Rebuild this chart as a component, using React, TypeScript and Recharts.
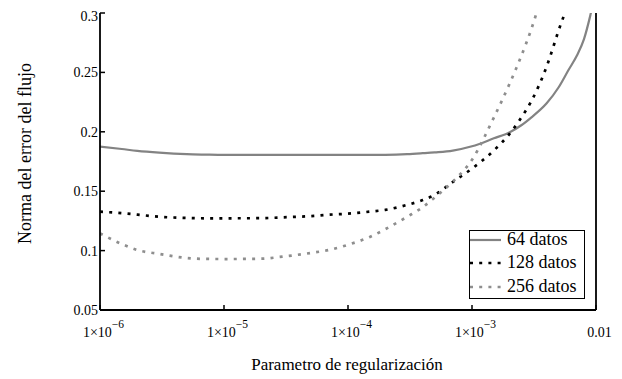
import React from 'react';
import { LineChart, Line, XAxis, YAxis } from 'recharts';

const xValues = [1e-6, 1.5e-6, 2e-6, 3e-6, 5e-6, 7e-6, 1e-5, 2e-5, 3e-5, 5e-5, 7e-5, 1e-4, 1.5e-4, 2e-4, 3e-4, 4e-4, 5e-4, 7e-4, 1e-3, 1.5e-3, 2e-3, 2.5e-3, 3e-3, 4e-3, 5e-3, 6e-3, 7e-3, 8e-3, 9e-3, 1e-2];

const series64 = [0.1875, 0.1855, 0.184, 0.1825, 0.1812, 0.1808, 0.1805, 0.1805, 0.1805, 0.1805, 0.1805, 0.1805, 0.1805, 0.1806, 0.1812, 0.182, 0.1827, 0.1842, 0.1878, 0.1945, 0.1995, 0.2055, 0.212, 0.224, 0.2375, 0.252, 0.264, 0.278, 0.298, 0.32];
const series128 = [0.1328, 0.1315, 0.1303, 0.1285, 0.1275, 0.1272, 0.1272, 0.1273, 0.128, 0.129, 0.1302, 0.1311, 0.1328, 0.1343, 0.1385, 0.1425, 0.147, 0.1578, 0.169, 0.1843, 0.198, 0.212, 0.2255, 0.255, 0.2855, 0.31, 0.34, 0.37, 0.4, 0.43];
const series256 = [0.1145, 0.1055, 0.1005, 0.0972, 0.0938, 0.093, 0.0929, 0.0932, 0.095, 0.098, 0.1005, 0.1049, 0.1115, 0.118, 0.1285, 0.1365, 0.1447, 0.158, 0.1765, 0.212, 0.24, 0.264, 0.286, 0.33, 0.37, 0.41, 0.45, 0.49, 0.53, 0.57];

const seriesNames = ['64 datos', '128 datos', '256 datos'];

const xTicks = [1e-6, 1e-5, 1e-4, 1e-3, 1e-2];
const xTickBase = ['1×10', '1×10', '1×10', '1×10', '0.01'];
const xTickExp = ['−6', '−5', '−4', '−3', ''];

const yTicks = [0.05, 0.1, 0.15, 0.2, 0.25, 0.3];
const yTickLabels = ['0.05', '0.1', '0.15', '0.2', '0.25', '0.3'];

const xTitle = 'Parametro de regularización';
const yTitle = 'Norma del error del flujo';

const FONT = 'Liberation Serif, Tinos, Times New Roman, Times, DejaVu Serif, Noto Serif, serif';

const data = xValues.map((x, i) => ({
  x,
  s64: series64[i],
  s128: series128[i],
  s256: series256[i],
}));

const styles = [
  { key: 's64', stroke: '#838383', width: 2.2, dash: undefined as string | undefined },
  { key: 's128', stroke: '#000000', width: 2.7, dash: '3 6.2' },
  { key: 's256', stroke: '#8e8e8e', width: 2.7, dash: '3 6.2' },
];

const nearestIdx = (v: number) => {
  let best = 0;
  let bd = Infinity;
  xTicks.forEach((t, i) => {
    const d = Math.abs(Math.log10(t) - Math.log10(v));
    if (d < bd) { bd = d; best = i; }
  });
  return best;
};

const XTick = (props: any) => {
  const { x, y, payload } = props;
  const i = nearestIdx(payload.value);
  return (
    <text x={x + 3.5} y={y + 22} textAnchor="middle" style={{ fontFamily: FONT }} fontSize={14} fill="#000">
      <tspan>{xTickBase[i]}</tspan>
      {xTickExp[i] ? <tspan dy={-9} fontSize={11.5}>{xTickExp[i]}</tspan> : null}
    </text>
  );
};

const XTitle = (props: any) => {
  const vb = props.viewBox || {};
  return (
    <text x={vb.x + vb.width / 2 - 1} y={vb.y + 60} textAnchor="middle" style={{ fontFamily: FONT }} fontSize={17} fill="#000">
      {xTitle}
    </text>
  );
};

const YTitle = (props: any) => {
  const vb = props.viewBox || {};
  const cx = vb.x + 23;
  const cy = vb.y + vb.height / 2 - 8;
  return (
    <text x={cx} y={cy} transform={`rotate(-90 ${cx} ${cy})`} textAnchor="middle" style={{ fontFamily: FONT }} fontSize={18} fill="#000">
      {yTitle}
    </text>
  );
};

export default function App() {
  return (
    <div style={{ position: 'relative', width: 614, height: 371, fontFamily: FONT }}>
      <LineChart width={614} height={371} data={data} margin={{ top: 5, right: 0, bottom: 0, left: 0 }} style={{ fontFamily: FONT }}>
        <XAxis
          xAxisId="main"
          dataKey="x"
          type="number"
          scale="log"
          domain={[1e-6, 1e-2]}
          allowDataOverflow
          ticks={xTicks}
          orientation="bottom"
          height={69}
          tickSize={-5}
          tickMargin={10}
          tick={<XTick />}
          axisLine={{ stroke: '#000', strokeWidth: 1.8 }}
          tickLine={{ stroke: '#000', strokeWidth: 1.5 }}
          label={{ content: <XTitle /> }}
        />
        <XAxis
          xAxisId="top"
          dataKey="x"
          type="number"
          scale="log"
          domain={[1e-6, 1e-2]}
          allowDataOverflow
          ticks={xTicks}
          orientation="top"
          height={0}
          tickSize={-5}
          tick={false}
          axisLine={{ stroke: '#000', strokeWidth: 1.8 }}
          tickLine={{ stroke: '#000', strokeWidth: 1.5 }}
        />
        <YAxis
          yAxisId="main"
          type="number"
          domain={[0.05, 0.3]}
          allowDataOverflow
          ticks={yTicks}
          width={92}
          tickSize={-5}
          tickMargin={7}
          tickFormatter={(v: number) => yTickLabels[yTicks.findIndex((t) => Math.abs(t - v) < 1e-9)] ?? String(v)}
          tick={{ fontFamily: FONT, fontSize: 14, fill: '#000', style: { fontFamily: FONT } }}
          axisLine={{ stroke: '#000', strokeWidth: 1.8 }}
          tickLine={{ stroke: '#000', strokeWidth: 1.5 }}
          label={{ content: <YTitle /> }}
        />
        <YAxis
          yAxisId="right"
          orientation="right"
          type="number"
          domain={[0.05, 0.3]}
          allowDataOverflow
          ticks={yTicks}
          width={26}
          tickSize={-5}
          tick={false}
          axisLine={{ stroke: '#000', strokeWidth: 1.8 }}
          tickLine={{ stroke: '#000', strokeWidth: 1.5 }}
        />
        {styles.map((s, i) => (
          <Line
            key={s.key}
            xAxisId="main"
            yAxisId="main"
            dataKey={s.key}
            name={seriesNames[i]}
            type="monotone"
            stroke={s.stroke}
            strokeWidth={s.width}
            strokeDasharray={s.dash}
            dot={false}
            activeDot={false}
            isAnimationActive={false}
          />
        ))}
      </LineChart>
      <div
        style={{
          position: 'absolute',
          left: 461,
          top: 222,
          width: 116,
          height: 69,
          boxSizing: 'border-box',
          border: '1.5px solid #000',
          background: '#fff',
        }}
      >
        {styles.map((s, i) => (
          <div
            key={s.key}
            style={{
              position: 'absolute',
              left: 0,
              top: 10 + 23.5 * i - 1.5 - 11.75,
              height: 23.5,
              lineHeight: '23.5px',
              display: 'flex',
              alignItems: 'center',
              whiteSpace: 'nowrap',
            }}
          >
            <svg width={31} height={6} style={{ display: 'block' }}>
              <line x1={0} y1={3} x2={31} y2={3} stroke={s.stroke} strokeWidth={s.width} strokeDasharray={s.dash} />
            </svg>
            <span style={{ fontFamily: FONT, fontSize: 18, marginLeft: 6, color: '#000' }}>{seriesNames[i]}</span>
          </div>
        ))}
      </div>
    </div>
  );
}
